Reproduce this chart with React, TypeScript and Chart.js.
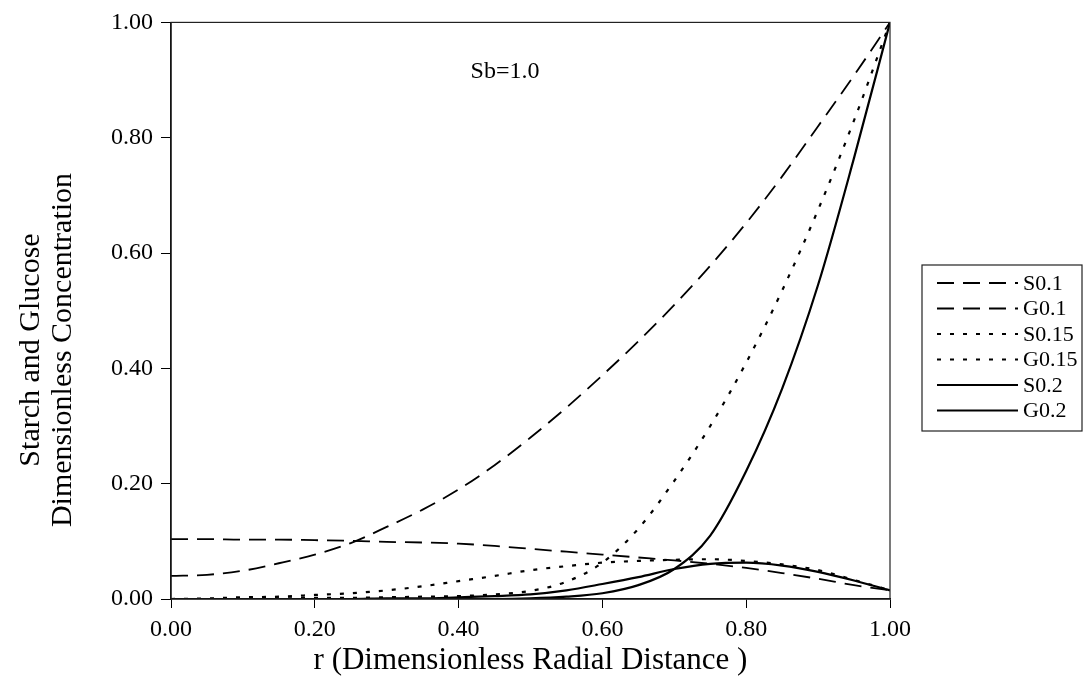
import React, { useEffect, useRef } from "react";
import { Chart, registerables } from "chart.js";

Chart.register(...registerables);

// Dimensionless radial distance r
const radius = [0, 0.05, 0.1, 0.15, 0.2, 0.25, 0.3, 0.35, 0.4, 0.45, 0.5, 0.55, 0.6, 0.65, 0.7, 0.75, 0.8, 0.85, 0.9, 0.95, 1.0];

const s01 = [0.040, 0.042, 0.049, 0.062, 0.077, 0.097, 0.125, 0.155, 0.190, 0.232, 0.280, 0.332, 0.388, 0.447, 0.510, 0.578, 0.652, 0.733, 0.820, 0.908, 1.0];
const g01 = [0.104, 0.104, 0.103, 0.103, 0.102, 0.101, 0.099, 0.098, 0.096, 0.092, 0.087, 0.082, 0.077, 0.072, 0.067, 0.061, 0.054, 0.045, 0.035, 0.024, 0.015];
const s015 = [0, 0, 0.001, 0.001, 0.002, 0.002, 0.003, 0.004, 0.005, 0.008, 0.014, 0.030, 0.063, 0.122, 0.205, 0.300, 0.410, 0.535, 0.675, 0.830, 1.0];
const g015 = [0, 0.001, 0.003, 0.004, 0.007, 0.010, 0.015, 0.022, 0.031, 0.040, 0.050, 0.057, 0.063, 0.066, 0.068, 0.069, 0.066, 0.060, 0.050, 0.033, 0.015];
const s02 = [0, 0, 0, 0, 0, 0, 0, 0, 0, 0, 0.001, 0.004, 0.010, 0.024, 0.052, 0.110, 0.222, 0.365, 0.545, 0.765, 1.0];
const g02 = [0, 0, 0, 0, 0, 0, 0.001, 0.001, 0.003, 0.005, 0.008, 0.015, 0.026, 0.038, 0.052, 0.061, 0.063, 0.058, 0.047, 0.032, 0.015];

const seriesLabels = ["S0.1", "G0.1", "S0.15", "G0.15", "S0.2", "G0.2"];
const xTickValues = [0, 0.2, 0.4, 0.6, 0.8, 1.0];
const yTickValues = [0, 0.2, 0.4, 0.6, 0.8, 1.0];
const annotationText = "Sb=1.0";
const xTitle = "r (Dimensionless Radial Distance )";
const yTitleLines = ["Starch and Glucose", "Dimensionless Concentration"];

const FONT = "'Liberation Serif', 'Times New Roman', serif";

const LONG_DASH = [17, 9];
const DOT = [4, 9];
const SOLID: number[] = [];

export default function App() {
  const canvasRef = useRef<HTMLCanvasElement | null>(null);

  useEffect(() => {
    const canvas = canvasRef.current;
    if (!canvas) return;

    const seriesValues = [s01, g01, s015, g015, s02, g02];
    const dashes = [LONG_DASH, LONG_DASH, DOT, DOT, SOLID, SOLID];
    const widths = [1.8, 1.8, 2.2, 2.2, 2.2, 2.2];

    const datasets = seriesValues.map((vals, i) => ({
      label: seriesLabels[i],
      data: radius.map((r, j) => ({ x: r, y: vals[j] })),
      borderColor: "#000",
      backgroundColor: "#000",
      borderWidth: widths[i],
      borderDash: dashes[i],
      pointRadius: 0,
      cubicInterpolationMode: "monotone" as const,
      fill: false,
    }));

    const decorPlugin = {
      id: "decor",
      afterDraw(chart: any) {
        const ctx = chart.ctx;
        const ca = chart.chartArea;
        ctx.save();
        // plot border
        ctx.strokeStyle = "#222";
        ctx.lineWidth = 1.2;
        ctx.setLineDash([]);
        ctx.strokeRect(ca.left, ca.top, ca.right - ca.left, ca.bottom - ca.top);

        // annotation
        ctx.fillStyle = "#000";
        ctx.font = `24px ${FONT}`;
        ctx.textAlign = "center";
        ctx.textBaseline = "middle";
        ctx.fillText(annotationText, 505, 72);

        // y title (two rotated lines)
        ctx.font = `30px ${FONT}`;
        const cy = 350;
        const xs = [31, 63];
        yTitleLines.forEach((line, i) => {
          ctx.save();
          ctx.translate(xs[i], cy);
          ctx.rotate(-Math.PI / 2);
          ctx.textAlign = "center";
          ctx.textBaseline = "middle";
          ctx.fillText(line, 0, 0);
          ctx.restore();
        });

        // legend
        const bx = 922, by = 265, bw = 160, bh = 166;
        ctx.strokeStyle = "#222";
        ctx.lineWidth = 1.2;
        ctx.setLineDash([]);
        ctx.strokeRect(bx, by, bw, bh);
        ctx.font = `22px ${FONT}`;
        ctx.textAlign = "left";
        ctx.textBaseline = "middle";
        chart.data.datasets.forEach((ds: any, i: number) => {
          const y = 283 + i * 25.5;
          ctx.strokeStyle = "#000";
          ctx.lineWidth = ds.borderWidth;
          ctx.setLineDash(ds.borderDash);
          ctx.beginPath();
          ctx.moveTo(937, y);
          ctx.lineTo(1018, y);
          ctx.stroke();
          ctx.setLineDash([]);
          ctx.fillStyle = "#000";
          ctx.fillText(ds.label, 1023, y + 1);
        });
        ctx.restore();
      },
    };

    const chart = new Chart(canvas, {
      type: "line",
      data: { datasets },
      options: {
        responsive: false,
        animation: false,
        devicePixelRatio: 1,
        layout: { padding: { top: 22, right: 201, left: 0, bottom: 0 } },
        plugins: {
          legend: { display: false },
          tooltip: { enabled: false },
        },
        scales: {
          x: {
            type: "linear",
            min: 0,
            max: 1,
            afterBuildTicks: (scale: any) => {
              scale.ticks = xTickValues.map((v) => ({ value: v }));
            },
            afterFit: (scale: any) => {
              scale.height = 93;
            },
            ticks: {
              color: "#000",
              font: { family: FONT, size: 24 },
              maxRotation: 0,
              padding: 7,
              callback: (v: any) => Number(v).toFixed(2),
            },
            grid: {
              drawOnChartArea: false,
              drawTicks: true,
              tickLength: 9,
              color: "#000",
            },
            border: { color: "#000", width: 1.5 },
            title: {
              display: true,
              text: xTitle,
              color: "#000",
              font: { family: FONT, size: 31 },
              padding: { top: 0, bottom: 13 },
            },
          },
          y: {
            type: "linear",
            min: 0,
            max: 1,
            afterBuildTicks: (scale: any) => {
              scale.ticks = yTickValues.map((v) => ({ value: v }));
            },
            afterFit: (scale: any) => {
              scale.width = 171;
            },
            ticks: {
              color: "#000",
              font: { family: FONT, size: 24 },
              padding: 8,
              callback: (v: any) => Number(v).toFixed(2),
            },
            grid: {
              drawOnChartArea: false,
              drawTicks: true,
              tickLength: 10,
              color: "#000",
            },
            border: { color: "#000", width: 1.5 },
          },
        },
      },
      plugins: [decorPlugin],
    });

    return () => {
      chart.destroy();
    };
  }, []);

  return (
    <div style={{ position: "fixed", left: 0, top: 0, width: 1091, height: 692, background: "#fff" }}>
      <canvas ref={canvasRef} width={1091} height={692} />
    </div>
  );
}
